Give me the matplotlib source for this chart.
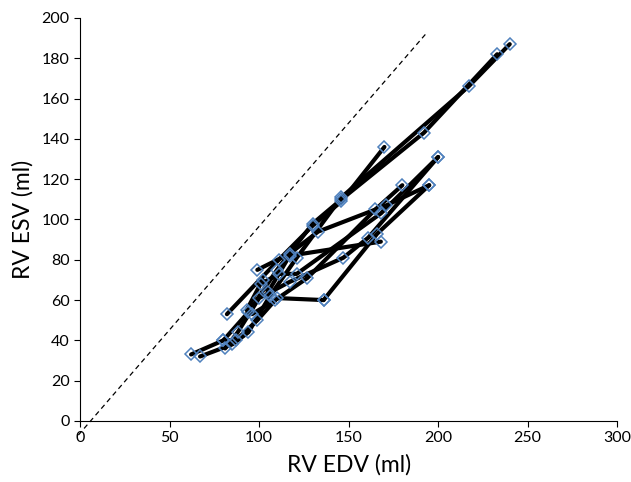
import matplotlib.pyplot as plt
import numpy as np

# each list is one patient's serial measurements (EDV, ESV)
series_edv = [
    [62, 80, 94, 110, 130, 146, 192, 233],
    [67, 85, 94, 106, 121, 146, 217, 240],
    [82, 111, 130, 146, 170],
    [81, 88, 100, 117, 147, 161, 200],
    [80, 87, 99, 110, 136],
    [136, 166, 195],
    [96, 109, 127, 165, 180],
    [101, 111, 121, 168, 200],
    [99, 117, 133, 171, 195],
    [93, 102, 105, 117, 168],
]
series_esv = [
    [33, 40, 54, 75, 98, 110, 143, 182],
    [32, 38, 44, 62, 81, 111, 166, 187],
    [53, 80, 97, 109, 136],
    [36, 44, 61, 69, 81, 91, 131],
    [40, 40, 50, 61, 60],
    [60, 93, 117],
    [53, 60, 71, 105, 117],
    [68, 73, 73, 103, 131],
    [75, 83, 94, 107, 117],
    [55, 70, 64, 82, 89],
]

ref_edv = [-1, 194]
ref_esv = [-7, 193]

fig = plt.figure(figsize=(6.31, 4.82), dpi=100)
ax = fig.add_axes([0.127, 0.1266, 0.851, 0.8361])

ax.plot(ref_edv, ref_esv, '--', color='black', lw=0.9, dashes=(4, 3), clip_on=False)

for xs, ys in zip(series_edv, series_esv):
    ax.plot(xs, ys, '-', color='black', lw=3.0, solid_capstyle='round',
            solid_joinstyle='round', zorder=2)
for xs, ys in zip(series_edv, series_esv):
    ax.plot(xs, ys, 'D', ms=6, mfc='none', mec='#4f81bd', mew=1.1, zorder=3)

ax.set_xlim(0, 300)
ax.set_ylim(0, 200)
ax.set_xticks(np.arange(0, 301, 50))
ax.set_yticks(np.arange(0, 201, 20))
ax.spines['top'].set_visible(False)
ax.spines['right'].set_visible(False)
ax.tick_params(direction='out', length=4, width=0.8, labelsize=11.5)
for t in ax.get_xticklabels() + ax.get_yticklabels():
    t.set_fontfamily('Lato')
ax.set_xlabel('RV EDV (ml)', fontsize=16.5, fontfamily='Lato', labelpad=6)
ax.set_ylabel('RV ESV (ml)', fontsize=16.5, fontfamily='Lato', labelpad=6)

fig.savefig('out.png', dpi=100)
